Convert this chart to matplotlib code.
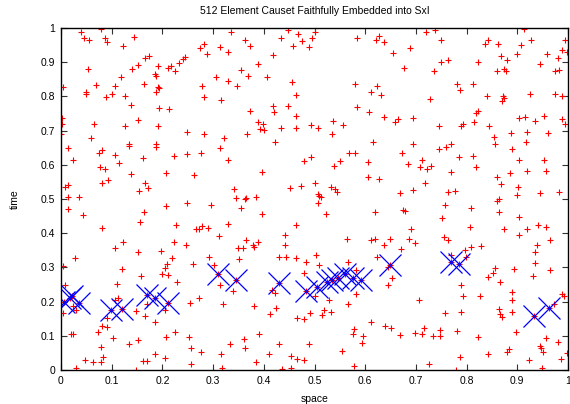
import matplotlib
matplotlib.use("Agg")
import matplotlib.pyplot as plt
from matplotlib.ticker import FuncFormatter, MultipleLocator

plt.rcParams['font.family'] = ['Liberation Sans', 'DejaVu Sans']

# causet elements: (space, time)
space = [
    0.040, 0.078, 0.045, 0.056, 0.086, 0.090, 0.143, 0.122, 0.053, 0.166, 0.173, 0.191, 0.244, 0.240,
    0.232, 0.216, 0.212, 0.224, 0.151, 0.141, 0.185, 0.187, 0.119, 0.003, 0.070, 0.107, 0.164, 0.191,
    0.193, 0.187, 0.049, 0.049, 0.101, 0.089, 0.126, 0.139, 0.194, 0.214, 0.002, 0.001, 0.066, 0.126,
    0.151, 0.191, 0.249, 0.000, 0.059, 0.134, 0.187,
    0.335, 0.362, 0.373, 0.275, 0.283, 0.287, 0.314, 0.329, 0.433, 0.448, 0.467, 0.475, 0.458, 0.489,
    0.496, 0.500, 0.418, 0.389, 0.355, 0.368, 0.306, 0.330, 0.347, 0.279, 0.406, 0.455, 0.283, 0.316,
    0.464, 0.418, 0.420, 0.448, 0.373, 0.464, 0.389, 0.398, 0.393, 0.401, 0.434, 0.463, 0.494, 0.283,
    0.322, 0.366, 0.422,
    0.584, 0.628, 0.621, 0.637, 0.654, 0.688, 0.719, 0.737, 0.749, 0.749, 0.736, 0.677, 0.580, 0.624,
    0.611, 0.631, 0.727, 0.584, 0.607, 0.638, 0.665, 0.658, 0.695, 0.536, 0.557, 0.506, 0.535, 0.615,
    0.694, 0.745,
    0.763, 0.843, 0.836, 0.861, 0.907, 0.914, 0.927, 0.995, 0.988, 0.998, 0.959, 0.980, 0.868, 0.880,
    0.899, 0.823, 0.945, 0.859, 0.874, 0.877, 0.974, 0.982, 0.782, 0.813, 0.786, 0.840, 0.872, 0.874,
    0.870, 0.926, 0.974, 0.989, 0.818, 0.823, 0.815, 0.793, 0.789, 0.844, 0.903, 0.915, 0.953, 0.935,
    0.988, 0.995, 0.855, 0.888, 0.919, 0.961, 0.856, 0.918, 0.769,
    0.014, 0.074, 0.080, 0.106, 0.134, 0.187, 0.222, 0.249, 0.023, 0.076, 0.086, 0.114, 0.161, 0.139,
    0.207, 0.014, 0.008, 0.080, 0.093, 0.166, 0.154, 0.172, 0.014, 0.036, 0.249, 0.207, 0.014, 0.043,
    0.164, 0.156, 0.227, 0.080, 0.122, 0.106, 0.152, 0.222, 0.198, 0.247, 0.027, 0.218,
    0.313, 0.276, 0.329, 0.480, 0.494, 0.262, 0.397, 0.342, 0.345, 0.362, 0.365, 0.384, 0.355, 0.396,
    0.451, 0.473, 0.500, 0.502, 0.295, 0.329, 0.266, 0.272, 0.278, 0.289, 0.312, 0.464, 0.442, 0.364,
    0.389, 0.379, 0.380, 0.350, 0.358, 0.442, 0.291, 0.351, 0.429, 0.443, 0.464,
    0.745, 0.569, 0.579, 0.673, 0.550, 0.538, 0.606, 0.684, 0.712, 0.709, 0.722, 0.729, 0.606, 0.628,
    0.717, 0.533, 0.540, 0.545, 0.506, 0.509, 0.513, 0.506, 0.523, 0.669, 0.695, 0.619, 0.675, 0.678,
    0.751, 0.690, 0.564, 0.611, 0.620, 0.648, 0.686, 0.699, 0.638, 0.671, 0.623,
    0.760, 0.889, 0.785, 0.813, 0.903, 0.953, 0.819, 0.769, 0.886, 0.919, 0.956, 0.859, 0.867, 0.901,
    0.899, 0.944, 0.982, 0.763, 0.777, 0.860, 0.864, 0.757, 0.809, 0.864, 0.903, 0.806, 0.873, 0.920,
    0.941, 0.957, 0.756, 0.764, 0.903, 0.964, 0.938, 0.809, 0.828, 0.797, 0.769, 0.798, 0.934,
    0.003, 0.120, 0.210, 0.205, 0.212, 0.199, 0.229, 0.110, 0.157, 0.007, 0.112, 0.107, 0.003, 0.030,
    0.023, 0.090, 0.081, 0.090, 0.072, 0.020, 0.024, 0.103, 0.078, 0.082, 0.078, 0.064, 0.047, 0.135,
    0.152, 0.148, 0.166, 0.170, 0.185, 0.208, 0.225, 0.205, 0.205, 0.185, 0.161, 0.170, 0.147, 0.030,
    0.253, 0.006, 0.018, 0.022, 0.036, 0.099, 0.120, 0.170, 0.186, 0.211,
    0.260, 0.301, 0.313, 0.339, 0.272, 0.255, 0.320, 0.380, 0.483, 0.480, 0.417, 0.423, 0.413, 0.425,
    0.465, 0.479, 0.491, 0.256, 0.276, 0.256, 0.318, 0.316, 0.334, 0.360, 0.363, 0.391, 0.384, 0.410,
    0.429, 0.435, 0.454, 0.454, 0.465, 0.479, 0.489, 0.310, 0.345, 0.429, 0.483,
    0.566, 0.509, 0.582, 0.644, 0.653, 0.645, 0.582, 0.528, 0.566, 0.519, 0.515, 0.532, 0.500, 0.612,
    0.577, 0.576, 0.596, 0.594, 0.554, 0.640, 0.650, 0.669, 0.699, 0.715, 0.713, 0.707, 0.733, 0.748,
    0.747, 0.577, 0.726, 0.504, 0.524, 0.535, 0.546, 0.561, 0.575, 0.592, 0.648,
    0.785, 0.769, 0.856, 0.852, 0.842, 0.894, 0.934, 0.931, 0.965, 0.866, 0.789, 0.792, 0.827, 0.889,
    0.889, 0.989, 0.992, 0.973, 0.863, 0.866, 0.870, 0.889, 0.788, 0.757, 0.782, 0.822, 0.898, 0.957,
    0.981, 0.944, 0.947, 0.951, 0.884, 0.880, 0.842, 0.786, 0.923, 0.949, 0.986, 0.998, 0.780, 0.932,
    0.963,
]
time = [
    0.989, 0.997, 0.970, 0.966, 0.970, 0.958, 0.974, 0.948, 0.880, 0.911, 0.917, 0.890, 0.915, 0.909,
    0.898, 0.890, 0.882, 0.874, 0.892, 0.880, 0.866, 0.861, 0.857, 0.827, 0.833, 0.831, 0.837, 0.827,
    0.824, 0.812, 0.814, 0.808, 0.806, 0.798, 0.802, 0.775, 0.765, 0.763, 0.738, 0.718, 0.720, 0.714,
    0.732, 0.713, 0.695, 0.689, 0.679, 0.662, 0.660,
    0.987, 0.966, 0.948, 0.941, 0.954, 0.925, 0.943, 0.931, 0.970, 0.993, 0.983, 0.962, 0.948, 0.944,
    0.972, 0.989, 0.921, 0.894, 0.876, 0.859, 0.857, 0.845, 0.831, 0.831, 0.857, 0.843, 0.798, 0.790,
    0.804, 0.771, 0.755, 0.773, 0.757, 0.742, 0.726, 0.720, 0.705, 0.703, 0.707, 0.707, 0.716, 0.689,
    0.677, 0.691, 0.666,
    0.972, 0.976, 0.966, 0.958, 0.927, 0.941, 0.989, 0.995, 0.964, 0.901, 0.874, 0.882, 0.835, 0.831,
    0.812, 0.804, 0.792, 0.769, 0.753, 0.740, 0.734, 0.726, 0.736, 0.728, 0.716, 0.707, 0.691, 0.668,
    0.662, 0.714,
    0.907, 0.964, 0.954, 0.952, 0.950, 0.997, 0.964, 0.964, 0.935, 0.931, 0.923, 0.913, 0.919, 0.907,
    0.925, 0.900, 0.894, 0.874, 0.880, 0.874, 0.874, 0.876, 0.835, 0.835, 0.818, 0.800, 0.800, 0.796,
    0.787, 0.806, 0.808, 0.800, 0.751, 0.757, 0.726, 0.718, 0.713, 0.713, 0.736, 0.740, 0.744, 0.728,
    0.734, 0.720, 0.681, 0.693, 0.695, 0.693, 0.660, 0.668, 0.662,
    0.649, 0.635, 0.643, 0.628, 0.655, 0.653, 0.626, 0.632, 0.614, 0.594, 0.589, 0.604, 0.620, 0.573,
    0.577, 0.542, 0.534, 0.546, 0.556, 0.546, 0.524, 0.532, 0.507, 0.507, 0.487, 0.480, 0.472, 0.454,
    0.462, 0.433, 0.423, 0.415, 0.374, 0.357, 0.345, 0.374, 0.349, 0.365, 0.327, 0.327,
    0.649, 0.635, 0.614, 0.612, 0.622, 0.569, 0.579, 0.528, 0.503, 0.499, 0.503, 0.505, 0.474, 0.456,
    0.532, 0.538, 0.546, 0.335, 0.483, 0.427, 0.411, 0.411, 0.421, 0.415, 0.392, 0.425, 0.394, 0.380,
    0.374, 0.365, 0.361, 0.357, 0.357, 0.365, 0.330, 0.326, 0.331, 0.331, 0.327,
    0.645, 0.635, 0.634, 0.635, 0.612, 0.596, 0.608, 0.602, 0.614, 0.594, 0.587, 0.596, 0.563, 0.559,
    0.546, 0.534, 0.530, 0.520, 0.515, 0.509, 0.505, 0.487, 0.456, 0.518, 0.526, 0.462, 0.468, 0.464,
    0.444, 0.411, 0.382, 0.380, 0.382, 0.382, 0.382, 0.370, 0.366, 0.353, 0.331,
    0.653, 0.645, 0.622, 0.626, 0.614, 0.614, 0.593, 0.579, 0.575, 0.583, 0.583, 0.563, 0.544, 0.534,
    0.511, 0.517, 0.520, 0.520, 0.524, 0.493, 0.499, 0.481, 0.474, 0.462, 0.448, 0.419, 0.413, 0.411,
    0.423, 0.417, 0.390, 0.380, 0.394, 0.380, 0.365, 0.359, 0.363, 0.351, 0.335, 0.330, 0.345,
    0.303, 0.295, 0.309, 0.297, 0.278, 0.280, 0.256, 0.252, 0.276, 0.250, 0.210, 0.206, 0.167, 0.176,
    0.188, 0.153, 0.128, 0.126, 0.112, 0.106, 0.104, 0.094, 0.067, 0.038, 0.024, 0.024, 0.028, 0.075,
    0.087, 0.173, 0.159, 0.192, 0.139, 0.096, 0.112, 0.176, 0.036, 0.046, 0.026, 0.026, 0.001, 0.007,
    0.096, 0.200, 0.210, 0.217, 0.196, 0.176, 0.178, 0.219, 0.211, 0.196,
    0.311, 0.307, 0.249, 0.231, 0.210, 0.196, 0.192, 0.186, 0.315, 0.284, 0.235, 0.225, 0.165, 0.180,
    0.151, 0.149, 0.167, 0.065, 0.052, 0.018, 0.007, 0.046, 0.077, 0.091, 0.065, 0.104, 0.024, 0.048,
    0.075, 0.003, 0.042, 0.007, 0.032, 0.028, 0.075, 0.280, 0.264, 0.254, 0.231,
    0.317, 0.307, 0.291, 0.301, 0.268, 0.249, 0.223, 0.204, 0.194, 0.175, 0.161, 0.169, 0.215, 0.141,
    0.120, 0.106, 0.099, 0.079, 0.056, 0.128, 0.122, 0.102, 0.108, 0.124, 0.104, 0.204, 0.099, 0.116,
    0.099, 0.013, 0.018, 0.243, 0.256, 0.262, 0.270, 0.282, 0.270, 0.262, 0.307,
    0.309, 0.317, 0.297, 0.284, 0.272, 0.295, 0.313, 0.274, 0.291, 0.258, 0.250, 0.215, 0.215, 0.229,
    0.204, 0.221, 0.215, 0.192, 0.178, 0.165, 0.155, 0.170, 0.169, 0.167, 0.114, 0.096, 0.110, 0.094,
    0.083, 0.071, 0.063, 0.052, 0.061, 0.054, 0.046, 0.038, 0.028, 0.007, 0.032, 0.050, 0.000, 0.157,
    0.180,
]

# highlighted elements
hl_space = [0.006, 0.018, 0.022, 0.036, 0.099, 0.120, 0.170, 0.186, 0.211,
            0.310, 0.345, 0.429, 0.483, 0.504, 0.524, 0.535, 0.546, 0.561, 0.575, 0.592,
            0.648, 0.769, 0.785, 0.932, 0.963]
hl_time = [0.200, 0.210, 0.217, 0.196, 0.176, 0.178, 0.219, 0.211, 0.196,
           0.280, 0.264, 0.254, 0.231, 0.243, 0.256, 0.262, 0.270, 0.282, 0.270, 0.262,
           0.307, 0.317, 0.309, 0.157, 0.180]

fig = plt.figure(figsize=(5.70, 4.04), dpi=100)
ax = fig.add_axes([61 / 570, 34 / 404, 507 / 570, 342 / 404])

ax.plot(space, time, linestyle='none', marker='+', markersize=4.8,
        markeredgewidth=0.8, color='#ff0000')
ax.plot(hl_space, hl_time, linestyle='none', marker='x', markersize=16.5,
        markeredgewidth=0.9, color='#0000ff')

ax.set_xlim(0, 1)
ax.set_ylim(0, 1)
ax.xaxis.set_major_locator(MultipleLocator(0.1))
ax.yaxis.set_major_locator(MultipleLocator(0.1))
fmt = FuncFormatter(lambda v, p: '%g' % round(v, 2))
ax.xaxis.set_major_formatter(fmt)
ax.yaxis.set_major_formatter(fmt)
ax.tick_params(direction='in', length=4.5, width=0.8, top=True, right=True,
               labelsize=7.5, pad=4, color='#333333')
for s in ax.spines.values():
    s.set_linewidth(1.0)
    s.set_color('black')

ax.set_title('512 Element Causet Faithfully Embedded into SxI', fontsize=7.5, pad=10)
ax.set_xlabel('space', fontsize=7.5, labelpad=6)
ax.set_ylabel('time', fontsize=7.5, labelpad=15)

fig.savefig('out.png', dpi=100)
